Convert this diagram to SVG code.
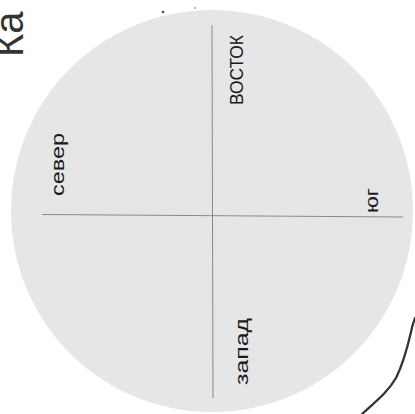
<svg xmlns="http://www.w3.org/2000/svg" width="415" height="414" viewBox="0 0 415 414">
  <style>
    .lbl { font-family: "Liberation Sans", Arial, sans-serif; font-size: 18px; fill: #1a1a1a; }
    .axis { stroke: #8a8a8a; stroke-width: 1; fill: none; }
  </style>
  <rect width="415" height="414" fill="#ffffff"/>
  <text class="lbl" style="font-size:40px;fill:#333" transform="translate(23,57) rotate(-90)">Ка</text>
  <circle cx="163" cy="12" r="1.3" fill="#444"/>
  <circle cx="195" cy="8" r="0.8" fill="#666"/>
  <g id="disc">
    <ellipse cx="212" cy="211" rx="201" ry="201" fill="#e6e6e6"/>
  </g>
  <g id="connectors">
    <line class="axis" x1="212" y1="25" x2="213" y2="398"/>
    <line class="axis" x1="42" y1="214.5" x2="403" y2="217"/>
  </g>
  <g id="vostok">
    <text class="lbl" transform="translate(243,105) rotate(-90)" textLength="70" lengthAdjust="spacingAndGlyphs">ВОСТОК</text>
  </g>
  <g id="sever">
    <text class="lbl" transform="translate(63.5,196) rotate(-90)" textLength="63" lengthAdjust="spacingAndGlyphs">север</text>
  </g>
  <g id="yug">
    <text class="lbl" transform="translate(378,213) rotate(-90)" textLength="25" lengthAdjust="spacingAndGlyphs">юг</text>
  </g>
  <g id="zapad">
    <text class="lbl" transform="translate(248,385) rotate(-90)" textLength="67" lengthAdjust="spacingAndGlyphs">запад</text>
  </g>
  <path d="M362,414 C375,402 388,392 396,378 C404,362 408,345 411,332 C412,326 414,321 415,318" fill="none" stroke="#333" stroke-width="2.3" stroke-linecap="round"/>
</svg>
